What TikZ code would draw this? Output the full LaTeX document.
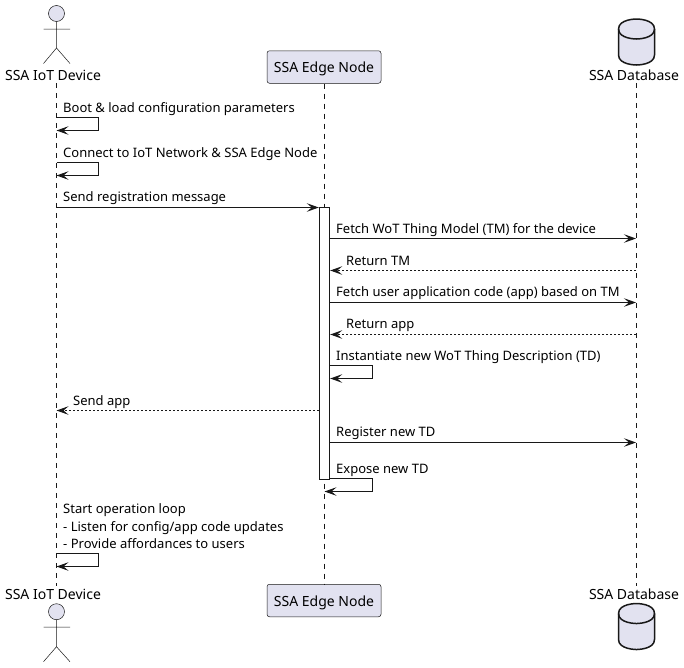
\documentclass[tikz,border=0pt]{standalone}
\usepackage{fontspec}
\usepackage{xcolor}
\usetikzlibrary{arrows.meta}
\setmainfont{Noto Sans}
\definecolor{umlline}{HTML}{181818}
\definecolor{umlfill}{HTML}{E2E2F0}
\tikzset{
  msg/.style={draw=umlline,line width=1pt,-{Stealth[length=12pt,width=8.5pt,inset=5pt]}},
  reply/.style={msg,dash pattern=on 2pt off 2pt},
  lifeline/.style={draw=umlline,line width=0.5pt,dash pattern=on 5pt off 5pt},
  activation/.style={draw=umlline,fill=white,line width=1pt,minimum width=10.4pt,minimum height=272pt,inner sep=0pt},
  msgtext/.style={anchor=base west,inner sep=0pt,align=left,font=\fontsize{13}{17.6}\selectfont},
  partbox/.style={draw=umlline,fill=umlfill,line width=0.5pt,rounded corners=2.5pt,minimum width=114pt,minimum height=32.5pt,inner sep=0pt,text height=13.6pt,text depth=2.6pt,font=\fontsize{14}{16}\selectfont},
  partname/.style={inner sep=0pt,minimum height=16pt,font=\fontsize{14}{16}\selectfont},
  actorline/.style={draw=umlline,line width=0.5pt},
  dbline/.style={draw=umlline,fill=umlfill,line width=1.5pt}
}
\begin{document}
\begin{tikzpicture}[x=1pt,y=-1pt]
\useasboundingbox (0,0) rectangle (684,667);
% participants, top row
\node [partname] (devTop) at (53,75) {SSA IoT Device};
\node [partbox] (edgeTop) at (324,67) {SSA Edge Node};
\node [partname] (dbTop) at (634,75) {SSA Database};
% participants, bottom row
\node [partname] (devBot) at (53,594) {SSA IoT Device};
\node [partbox] (edgeBot) at (324,600.5) {SSA Edge Node};
\node [partname] (dbBot) at (634,594) {SSA Database};
% lifelines
\coordinate (devLine) at (56.5,0);
\coordinate (edgeLine) at (324.5,0);
\coordinate (dbLine) at (636,0);
\draw [lifeline] (devLine |- devTop.south) -- (devLine |- devBot.north);
\draw [lifeline] (edgeLine |- edgeTop.south) -- (edgeLine |- edgeBot.north);
\draw [lifeline] (dbLine |- dbTop.south) -- (dbLine |- dbBot.north);
% actor on top
\draw [actorline,fill=umlfill] (56.5,13.5) circle (8);
\draw [actorline] (56.5,21.5) -- (56.5,48) (43.5,29) -- (70,29) (43.5,63.5) -- (56.5,48) -- (70,63.5);
% actor below
\draw [actorline,fill=umlfill] (56.5,611.7) circle (8);
\draw [actorline] (56.5,619.7) -- (56.5,646.7) (43.5,627) -- (70,627) (43.5,661.7) -- (56.5,646.7) -- (70,661.7);
% database on top
\draw [dbline] (618.5,29) .. controls (618.5,19) and (636.5,19) .. (636.5,19) .. controls (636.5,19) and (654.5,19) .. (654.5,29) -- (654.5,55) .. controls (654.5,65) and (636.5,65) .. (636.5,65) .. controls (636.5,65) and (618.5,65) .. (618.5,55) -- cycle;
\draw [dbline,fill=none] (618.5,29) .. controls (618.5,39) and (636.5,39) .. (636.5,39) .. controls (636.5,39) and (654.5,39) .. (654.5,29);
% database below
\draw [dbline] (618.5,613.5) .. controls (618.5,603.5) and (636.5,603.5) .. (636.5,603.5) .. controls (636.5,603.5) and (654.5,603.5) .. (654.5,613.5) -- (654.5,639.5) .. controls (654.5,649.5) and (636.5,649.5) .. (636.5,649.5) .. controls (636.5,649.5) and (618.5,649.5) .. (618.5,639.5) -- cycle;
\draw [dbline,fill=none] (618.5,613.5) .. controls (618.5,623.5) and (636.5,623.5) .. (636.5,623.5) .. controls (636.5,623.5) and (654.5,623.5) .. (654.5,613.5);
% activation
\node [activation] (act) at (324.5,343.3) {};
% message rows
\coordinate (rowA) at (0,117.5);
\coordinate (rowB) at (0,162.5);
\coordinate (rowC) at (0,207.5);
\coordinate (rowD) at (0,238.5);
\coordinate (rowE) at (0,270.5);
\coordinate (rowF) at (0,302.5);
\coordinate (rowG) at (0,334.5);
\coordinate (rowH) at (0,365.5);
\coordinate (rowI) at (0,410.5);
\coordinate (rowJ) at (0,442.5);
\coordinate (rowK) at (0,478.5);
\coordinate (rowL) at (0,553.5);
% messages
\draw [msg] (devLine |- rowA) -- ++(42,0) -- ++(0,13) -- ++(-42,0);
\draw [msg] (devLine |- rowB) -- ++(42,0) -- ++(0,13) -- ++(-42,0);
\draw [msg] (devLine |- rowC) -- (act.west |- rowC);
\draw [msg] (act.east |- rowD) -- (dbLine |- rowD);
\draw [reply] (dbLine |- rowE) -- (act.east |- rowE);
\draw [msg] (act.east |- rowF) -- (dbLine |- rowF);
\draw [reply] (dbLine |- rowG) -- (act.east |- rowG);
\draw [msg] (act.east |- rowH) -- ++(42,0) -- ++(0,13) -- ++(-42,0);
\draw [reply] (act.west |- rowI) -- (devLine |- rowI);
\draw [msg] (act.east |- rowJ) -- (dbLine |- rowJ);
\draw [msg] (act.east |- rowK) -- ++(42,0) -- ++(0,13) -- (edgeLine |- 0,491.5);
\draw [msg] (devLine |- rowL) -- ++(42,0) -- ++(0,13) -- ++(-42,0);
% message labels
\node [msgtext] (txtBoot) at (63,112) {Boot \& load configuration parameters};
\node [msgtext] (txtConnect) at (63,157) {Connect to IoT Network \& SSA Edge Node};
\node [msgtext] (txtSend) at (63,201.5) {Send registration message};
\node [msgtext] (txtFetchTM) at (336,233) {Fetch WoT Thing Model (TM) for the device};
\node [msgtext] (txtTM) at (346,265) {Return TM};
\node [msgtext] (txtFetchApp) at (336,296.5) {Fetch user application code (app) based on TM};
\node [msgtext] (txtApp) at (346,328.5) {Return app};
\node [msgtext] (txtTD) at (336,360) {Instantiate new WoT Thing Description (TD)};
\node [msgtext] (txtSendApp) at (73,405.5) {Send app};
\node [msgtext] (txtRegister) at (336,436.5) {Register new TD};
\node [msgtext] (txtExpose) at (336,473) {Expose new TD};
\node [msgtext,anchor=west] (txtLoop) at (63,526.5) {Start operation loop\\- Listen for config/app code updates\\- Provide affordances to users};
\end{tikzpicture}
\end{document}
